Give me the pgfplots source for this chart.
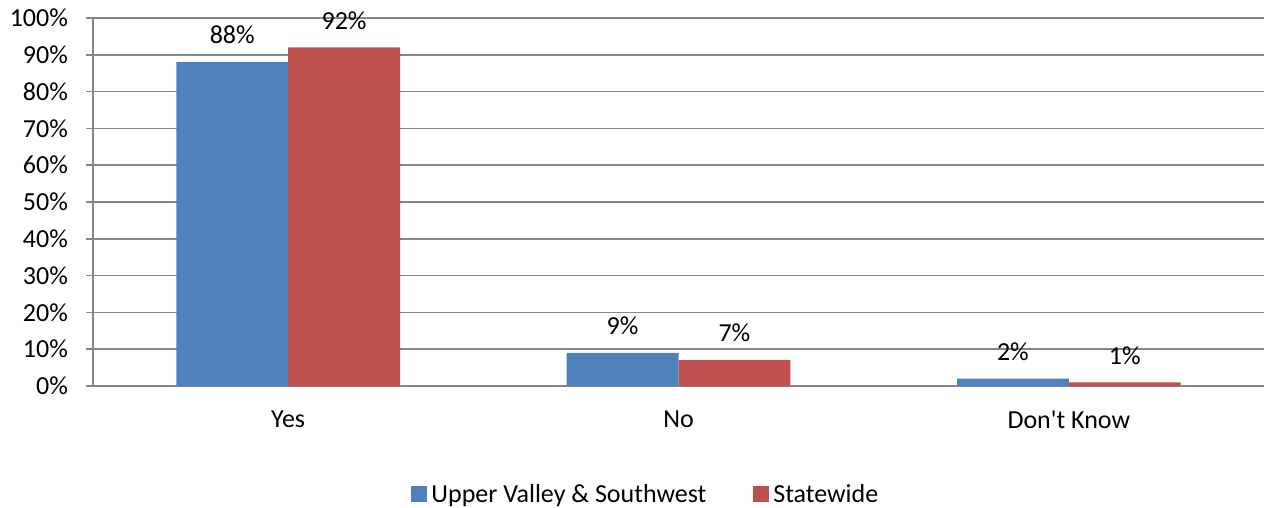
\documentclass[border=0pt]{standalone}
\usepackage{pgfplots}
\pgfplotsset{compat=1.18}
\usepackage{fontspec}
\setmainfont{Carlito}[Ligatures=TeXOff]
\definecolor{cblue}{HTML}{4F81BD}
\definecolor{cred}{HTML}{C0504D}
\definecolor{gridgray}{HTML}{868686}
\begin{document}
\fontsize{13}{15}\selectfont
\begin{tikzpicture}
\begin{axis}[
  scale only axis,
  width=585.5pt, height=184pt,
  xmin=-0.5, xmax=2.5,
  ymin=0, ymax=100,
  ybar=0pt,
  bar width=0.2865,
  axis x line*=bottom,
  axis y line*=left,
  axis line style={gridgray, line width=0.8pt},
  ytick={0,10,...,100},
  yticklabels={0\%,10\%,20\%,30\%,40\%,50\%,60\%,70\%,80\%,90\%,100\%},
  yticklabel style={xshift=-4.5pt},
  ymajorgrids,
  grid style={gridgray, line width=0.8pt},
  tick align=outside,
  major tick length=3.5pt,
  tick style={gridgray, line width=0.8pt},
  xtick={0,1,2},
  xticklabels={Yes,No,Don't Know},
  x tick style={draw=none},
  extra x ticks={-0.5,0.5,1.5,2.5},
  extra x tick labels={},
  extra x tick style={tick style={draw=gridgray, line width=0.8pt}, major tick length=3.5pt, grid=none},
  xticklabel style={yshift=-4.5pt},
  every tick label/.append style={font=\fontsize{13}{15}\selectfont, text=black},
  /pgf/number format/assume math mode=true,
  nodes near coords={\pgfmathprintnumber[assume math mode=true]{\pgfplotspointmeta}\%},
  every node near coord/.append style={font=\fontsize{13}{15}\selectfont, text=black, yshift=4.5pt},
  legend style={at={(0.473,-0.296)}, anchor=center, draw=none, legend columns=2,
    font=\fontsize{13}{15}\selectfont, /tikz/every even column/.append style={column sep=21.5pt}},
  legend image code/.code={\fill[#1] (0cm,-0.12cm) rectangle (0.28cm,0.16cm);},
  clip=false,
]
\addplot[fill=cblue, draw=none] coordinates {(0,88) (1,9) (2,2)};
\addplot[fill=cred, draw=none] coordinates {(0,92) (1,7) (2,1)};
\legend{Upper Valley \& Southwest, Statewide}
\coordinate (bl) at (rel axis cs:-0.07942,-0.33152);
\coordinate (tr) at (rel axis cs:1.0,1.04891);
\end{axis}
\pgfresetboundingbox
\useasboundingbox (bl) rectangle (tr);
\end{tikzpicture}
\end{document}
